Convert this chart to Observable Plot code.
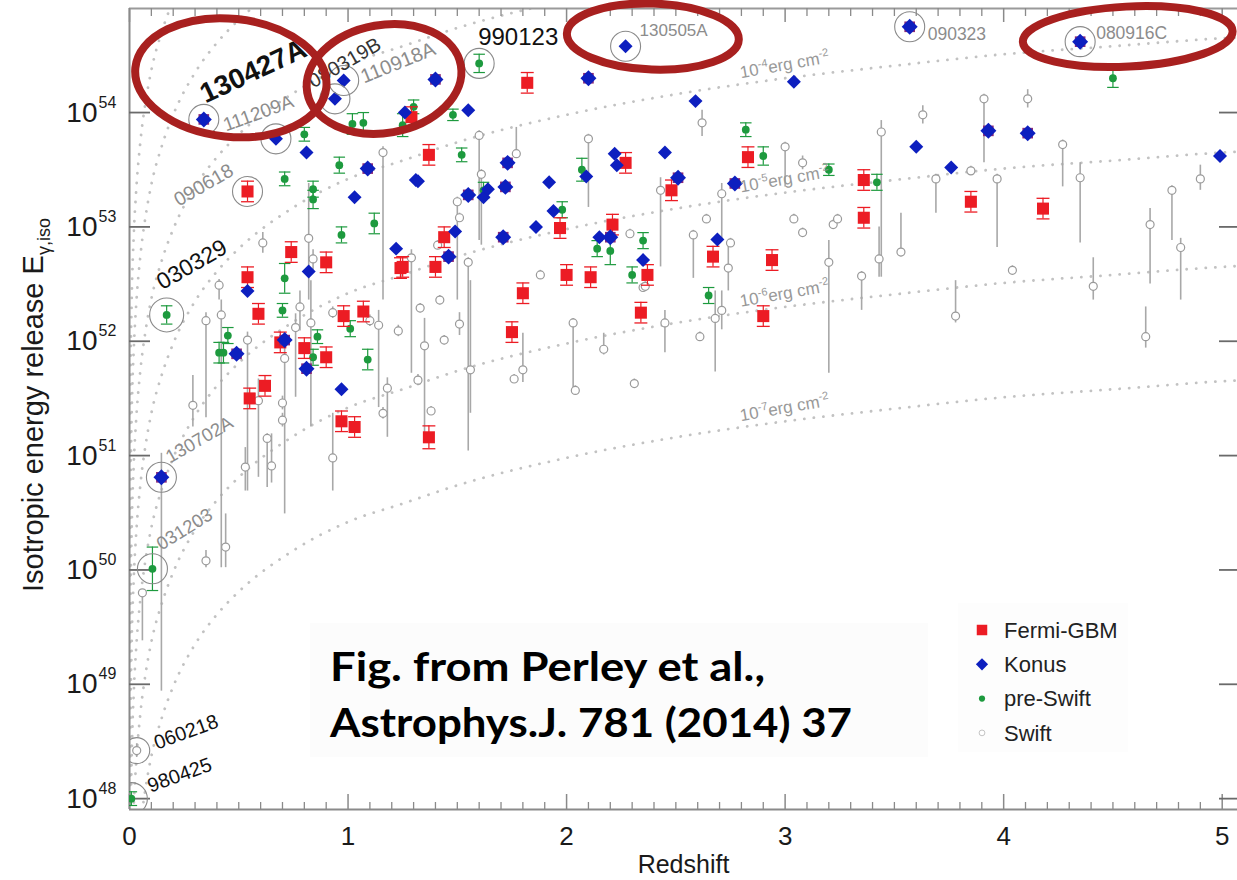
<!DOCTYPE html>
<html>
<head>
<meta charset="utf-8">
<script src="https://cdn.jsdelivr.net/npm/d3@7"></script>
<script src="https://cdn.jsdelivr.net/npm/@observablehq/plot@0.6"></script>
<style>
  html, body { margin: 0; padding: 0; background: #fff; }
  #chart svg { display: block; }
</style>
</head>
<body>
<div id="chart"></div>
<script>
// ---- axes ----
const xDomain = [0, 5.07];
const yDomain = [47.905, 54.91];          // log10 E_iso [erg]
const xMajorTicks = [0, 1, 2, 3, 4, 5];
const yTicks = [48, 49, 50, 51, 52, 53, 54];

// ---- constant-fluence curves: log10 E_iso for a fluence of 1e-7 erg cm^-2 ----
const fluenceZ =       [0.002, 0.005, 0.01, 0.02, 0.03, 0.05, 0.075, 0.1, 0.15, 0.2, 0.3, 0.4, 0.5, 0.75, 1, 1.25, 1.5, 2, 2.5, 3, 3.5, 4, 4.5, 5, 5.1];
const fluenceLogE1e7 = [44.95, 45.74, 46.35, 46.95, 47.30, 47.75, 48.11, 48.37, 48.72, 48.98, 49.35, 49.61, 49.81, 50.17, 50.42, 50.58, 50.74, 50.98, 51.16, 51.30, 51.41, 51.51, 51.58, 51.65, 51.66];
const fluenceExponents = [-7, -6, -5, -4, -3, -2, -1];
const labelledFluences = [-7, -6, -5, -4];

// ---- bursts ----
// Fermi-GBM: [z, log10 E, ±err (dex), name]
const fermi = [
  [0.54, 53.31, 0.09, "090618"], [1.29, 53.96, 0.09], [0.74, 52.78, 0.09], [0.90, 52.69, 0.09],
  [0.54, 52.56, 0.09], [1.24, 52.64, 0.09], [0.59, 52.24, 0.09], [0.55, 51.50, 0.09],
  [0.62, 51.61, 0.09], [0.69, 51.99, 0.09], [0.80, 51.94, 0.09], [0.90, 51.86, 0.09],
  [0.98, 52.22, 0.09], [1.07, 52.26, 0.09], [0.97, 51.30, 0.09], [1.03, 51.25, 0.09],
  [1.82, 54.26, 0.09], [1.37, 53.63, 0.09], [2.27, 53.56, 0.09], [2.83, 53.61, 0.09],
  [2.48, 53.32, 0.09], [1.97, 52.99, 0.09], [2.21, 53.02, 0.09], [1.44, 52.91, 0.09],
  [1.40, 52.65, 0.09], [1.25, 52.65, 0.09], [2.00, 52.58, 0.09], [2.11, 52.56, 0.09],
  [2.37, 52.58, 0.09], [2.67, 52.74, 0.09], [2.94, 52.71, 0.09], [1.80, 52.42, 0.09],
  [1.75, 52.08, 0.09], [2.34, 52.25, 0.09], [2.90, 52.22, 0.09], [1.37, 51.16, 0.10],
  [3.36, 53.41, 0.09], [3.36, 53.08, 0.09], [3.85, 53.22, 0.09], [4.18, 53.16, 0.09]
];
// Konus: [z, log10 E, name]
const konus = [
  [0.67, 53.77, "111209A"], [0.94, 54.12, "080319B"], [0.98, 54.28, "110918A"], [0.81, 53.65],
  [1.26, 54.00], [1.31, 53.41], [1.03, 53.26], [1.22, 52.81], [0.82, 52.61], [0.54, 52.44],
  [0.97, 51.58], [2.27, 54.58, "130505A"], [3.04, 54.27], [2.59, 54.10], [1.55, 54.02],
  [2.22, 53.64], [2.23, 53.54], [2.45, 53.65], [1.32, 53.40], [1.92, 53.39], [2.09, 53.44],
  [1.62, 53.26], [1.64, 53.33], [1.94, 53.14], [1.49, 52.96], [1.86, 53.00], [2.15, 52.91],
  [2.69, 52.89], [2.35, 52.71], [3.60, 53.70], [3.76, 53.52], [4.99, 53.62]
];
// Measured by both Fermi-GBM and Konus: [z, log10 E, name]
const fermiKonus = [
  [0.34, 53.94, "130427A"], [1.09, 53.51], [0.49, 51.89], [0.71, 52.01], [0.81, 51.76],
  [0.146, 50.81, "130702A"], [1.40, 54.29], [2.10, 54.30], [1.73, 53.56], [1.72, 53.35],
  [2.51, 53.43], [2.77, 53.38], [1.55, 53.28], [1.71, 52.91], [2.20, 52.91], [1.46, 52.74],
  [3.57, 54.75, "090323"], [4.35, 54.62, "080916C"], [3.93, 53.84], [4.11, 53.82]
];
// pre-Swift: [z, log10 E, ±err (dex), name]
const preSwift = [
  [0.80, 53.81, 0.06], [1.02, 53.90, 0.09], [1.07, 53.91, 0.09], [1.30, 54.05, 0.06],
  [1.25, 53.89, 0.10], [0.96, 53.54, 0.07], [0.71, 53.42, 0.06], [0.84, 53.33, 0.07],
  [0.84, 53.24, 0.08], [1.12, 53.03, 0.09], [0.97, 52.93, 0.07], [0.71, 52.55, 0.13],
  [0.17, 52.23, 0.08, "030329"], [0.70, 52.27, 0.06], [0.41, 51.90, 0.09], [0.43, 51.90, 0.09],
  [0.45, 52.05, 0.07], [0.84, 51.86, 0.07], [0.86, 52.04, 0.06], [1.01, 52.11, 0.07],
  [1.09, 51.84, 0.09], [0.105, 50.01, 0.19, "031203"], [0.0085, 48.00, 0.06, "980425"],
  [1.60, 54.43, 0.08, "990123"], [1.48, 53.98, 0.05], [2.82, 53.85, 0.06], [1.52, 53.63, 0.06],
  [2.90, 53.62, 0.08], [2.07, 53.50, 0.10], [1.62, 53.32, 0.07], [1.98, 53.15, 0.07],
  [2.14, 52.81, 0.07], [2.20, 52.79, 0.12], [2.35, 52.88, 0.07], [2.30, 52.58, 0.07],
  [2.65, 52.40, 0.07], [4.50, 54.30, 0.08], [3.42, 53.39, 0.07], [3.20, 53.50, 0.05]
];
// Swift: [z, log10 E, lower, upper, name]
const swift = [
  [0.82, 52.90, 52.36, 53.38], [0.61, 52.86, 52.77, 52.95], [0.41, 52.49, 52.36, 52.54],
  [0.42, 52.23, 50.02, 52.36], [1.16, 53.65, 52.36, 53.70], [0.84, 52.72, 52.62, 52.80],
  [1.29, 52.73, 51.72, 52.80], [0.83, 52.16, 51.25, 52.53], [0.76, 52.12, 51.51, 52.24],
  [0.35, 52.18, 51.33, 52.25], [0.29, 51.44, 51.25, 51.70], [0.54, 52.01, 50.69, 52.08],
  [0.59, 51.48, 50.81, 51.67], [0.53, 50.90, 50.69, 51.07], [0.63, 51.15, 50.72, 51.19],
  [0.65, 50.91, 50.76, 51.19], [0.71, 51.85, 50.49, 51.98], [0.70, 51.46, 51.40, 51.52],
  [0.70, 51.31, 51.25, 51.37], [0.93, 50.98, 50.69, 51.37], [0.93, 52.25, 52.20, 52.30],
  [1.10, 52.18, 52.13, 52.23], [1.14, 52.14, 51.42, 52.27], [1.18, 51.59, 51.16, 51.68],
  [1.16, 51.37, 51.32, 51.42], [1.23, 52.09, 52.04, 52.14], [1.32, 51.66, 51.61, 51.71],
  [0.059, 49.80, 49.38, 49.82], [0.033, 48.42, 48.36, 48.48, "060218"],
  [0.35, 50.08, 50.02, 50.17], [0.44, 50.20, 50.02, 50.49], [1.60, 53.80, 52.88, 53.84],
  [1.77, 53.64, 53.60, 53.87], [2.10, 53.77, 53.17, 53.81], [2.62, 53.91, 53.79, 54.02],
  [3.00, 53.70, 53.35, 53.74], [3.08, 53.56, 53.50, 53.62], [1.50, 53.22, 52.36, 53.26],
  [1.61, 53.46, 52.84, 53.50], [2.43, 53.32, 52.65, 53.43], [2.71, 53.29, 52.88, 53.38],
  [2.29, 52.94, 52.90, 52.98], [1.88, 52.58, 52.54, 52.62], [1.55, 52.69, 51.04, 52.73],
  [1.41, 52.84, 52.80, 52.88], [2.58, 52.93, 52.55, 52.97], [2.64, 53.07, 53.03, 53.11],
  [2.74, 52.64, 52.44, 52.84], [2.75, 52.86, 52.82, 52.90], [3.04, 53.07, 53.03, 53.11],
  [3.08, 52.95, 52.91, 52.99], [2.35, 52.47, 52.43, 52.51], [3.91, 54.12, 53.56, 54.16],
  [4.11, 54.12, 54.04, 54.20], [3.63, 53.98, 53.90, 54.06], [3.44, 53.83, 52.56, 53.93],
  [4.27, 53.72, 53.35, 53.76], [3.85, 53.49, 53.45, 53.53], [3.69, 53.42, 53.12, 53.46],
  [3.97, 53.42, 52.82, 53.46], [4.35, 53.43, 52.86, 53.56], [4.90, 53.42, 53.32, 53.54],
  [3.22, 53.02, 52.98, 53.06], [3.24, 53.07, 53.03, 53.11], [3.20, 52.69, 51.72, 52.88],
  [3.43, 52.72, 52.56, 53.00], [3.53, 52.78, 52.74, 53.12], [3.35, 52.57, 52.27, 52.61],
  [4.04, 52.62, 52.58, 52.66], [4.67, 53.02, 52.50, 53.16], [4.77, 53.32, 52.88, 53.36],
  [4.81, 52.82, 52.36, 52.90], [4.41, 52.48, 52.36, 52.73], [3.78, 52.22, 52.16, 52.53],
  [4.65, 52.04, 51.94, 52.30], [1.33, 52.29, 52.25, 52.33], [1.42, 52.36, 52.32, 52.40],
  [1.44, 52.01, 51.97, 52.05], [1.35, 51.96, 51.19, 52.20], [1.51, 52.15, 52.05, 52.25],
  [1.56, 51.75, 51.37, 52.53], [1.38, 51.39, 51.35, 51.43], [1.76, 51.67, 51.63, 51.71],
  [1.80, 51.75, 51.64, 52.07], [2.03, 52.16, 51.57, 52.20], [2.04, 51.57, 51.53, 51.61],
  [2.17, 51.93, 51.88, 52.07], [2.31, 51.63, 51.59, 51.67], [2.45, 52.16, 51.90, 52.27],
  [2.61, 52.04, 52.00, 52.08], [2.68, 52.20, 51.73, 52.44], [2.71, 52.27, 52.10, 52.44],
  [2.36, 52.48, 52.44, 52.52], [0.78, 52.30, 52.09, 52.44], [0.146, 50.81, 48.94, 51.02],
  [1.51, 53.08, 53.04, 53.12]
];

// ---- styling ----
const RED = "#ec1c24", BLUE = "#0d1fbf", GREEN = "#1d9a3e", GREY = "#9a9a9a";
const SANS = "'Liberation Sans', Arial, sans-serif";
const capMark = {draw(ctx, size) { const w = Math.sqrt(size) / 2; ctx.moveTo(-w, 0); ctx.lineTo(w, 0); }};

const named = [
  ...fermi.filter(d => d[3]).map(d => ({name: d[3], z: d[0], logE: d[1]})),
  ...konus.filter(d => d[2]).map(d => ({name: d[2], z: d[0], logE: d[1]})),
  ...fermiKonus.filter(d => d[2]).map(d => ({name: d[2], z: d[0], logE: d[1]})),
  ...preSwift.filter(d => d[3]).map(d => ({name: d[3], z: d[0], logE: d[1]})),
  ...swift.filter(d => d[4]).map(d => ({name: d[4], z: d[0], logE: d[1]}))
];
const ringRadius = {"030329": 17, "980425": 16, "060218": 13};
const labelStyle = {
  "130427A": {dx: -2, dy: -24, rotate: -25, size: 28, weight: "bold", color: "#111"},
  "111209A": {dx: -52, dy: -13, rotate: -20, size: 19, color: "#8c8c8c"},
  "080319B": {dx: -25, dy: -16, rotate: -30, size: 20, color: "#333"},
  "110918A": {dx: 18, dy: -3, rotate: -22, size: 20, color: "#8c8c8c"},
  "990123":  {dx: -1, dy: -26, rotate: 0, size: 24, color: "#111"},
  "130505A": {dx: 14, dy: -16, rotate: 0, size: 17, color: "#8c8c8c"},
  "090323":  {dx: 18, dy: 8, rotate: 0, size: 17.5, color: "#8c8c8c"},
  "080916C": {dx: 16, dy: -8, rotate: 0, size: 17.5, color: "#8c8c8c"},
  "090618":  {dx: -72, dy: 10, rotate: -30, size: 19.5, color: "#8c8c8c"},
  "030329":  {dx: -8, dy: -31, rotate: -30, size: 23, color: "#111"},
  "130702A": {dx: 6, dy: -19, rotate: -30, size: 18.5, color: "#8c8c8c"},
  "031203":  {dx: 6, dy: -23, rotate: -32, size: 18.5, color: "#8c8c8c"},
  "060218":  {dx: 18, dy: -7, rotate: -20, size: 20, color: "#111"},
  "980425":  {dx: 17, dy: -12, rotate: -20, size: 20, color: "#111"}
};

const curves = fluenceExponents.flatMap(k =>
  fluenceZ.map((z, i) => ({k, z, logE: fluenceLogE1e7[i] + (k + 7)})));

const xMinorTicks = d3.range(1, 51).map(i => i / 10).filter(v => Math.abs(v - Math.round(v)) > 1e-9);
const frameH = 880 - 8 - 71, frameW = 1237 - 129;

const chart = Plot.plot({
  width: 1237, height: 880,
  marginLeft: 129, marginRight: 0, marginTop: 8, marginBottom: 71,
  x: {domain: xDomain, axis: null},
  y: {domain: yDomain, axis: null},
  r: {type: "identity"},
  style: {fontFamily: SANS, background: "#fff"},
  marks: [
    // constant-fluence curves
    Plot.line(curves, {x: "z", y: "logE", z: "k", curve: "monotone-x", clip: true,
      stroke: "#c2c2c2", strokeWidth: 2.8, strokeDasharray: "0.1 9.5", strokeLinecap: "round"}),

    // frame and ticks
    Plot.ruleX([xDomain[0]], {stroke: "#8a8a8a", strokeWidth: 2}),
    Plot.ruleY([yDomain[0]], {stroke: "#8a8a8a", strokeWidth: 2}),
    Plot.ruleY([yDomain[1]], {stroke: "#9a9a9a", strokeWidth: 2}),
    Plot.ruleX(xMajorTicks, {x: d => d, insetTop: frameH - 15, stroke: "#8a8a8a", strokeWidth: 1.5}),
    Plot.ruleX(xMinorTicks, {x: d => d, insetTop: frameH - 7, stroke: "#8a8a8a", strokeWidth: 1.3}),
    Plot.ruleX(xMajorTicks, {x: d => d, insetBottom: frameH - 14, stroke: "#8a8a8a", strokeWidth: 1.5}),
    Plot.ruleX(xMinorTicks, {x: d => d, insetBottom: frameH - 8, stroke: "#8a8a8a", strokeWidth: 1.3}),
    Plot.ruleY(yTicks, {y: d => d, insetRight: frameW - 21, stroke: "#6a6a6a", strokeWidth: 1.8}),
    Plot.ruleY(yTicks, {y: d => d, insetLeft: frameW - 18, stroke: "#6a6a6a", strokeWidth: 1.8}),

    // tick labels
    Plot.text(xMajorTicks, {x: d => d, frameAnchor: "bottom", dy: 27, text: d => String(d),
      fontSize: 26, lineAnchor: "middle", fill: "#1a1a1a"}),
    Plot.text(yTicks, {y: d => d, frameAnchor: "left", dx: -32, text: () => "10",
      textAnchor: "end", lineAnchor: "middle", fontSize: 28, fill: "#1a1a1a"}),
    Plot.text(yTicks, {y: d => d, frameAnchor: "left", dx: -31, dy: -10, text: d => String(d),
      textAnchor: "start", lineAnchor: "middle", fontSize: 16, fill: "#1a1a1a"}),
    Plot.text(["Redshift"], {frameAnchor: "bottom", dy: 55, fontSize: 25, lineAnchor: "middle", fill: "#1a1a1a"}),

    // Swift
    Plot.ruleX(swift, {x: d => d[0], y1: d => d[2], y2: d => d[3], stroke: "#a8a8a8", strokeWidth: 1.6, clip: true}),
    Plot.dot(swift, {x: d => d[0], y: d => d[1], r: 4, fill: "#fff", stroke: GREY, strokeWidth: 1.2, clip: true}),

    // pre-Swift
    Plot.ruleX(preSwift, {x: d => d[0], y1: d => d[1] - d[2], y2: d => d[1] + d[2], stroke: GREEN, strokeWidth: 1.2, clip: true}),
    Plot.dot(preSwift, {x: d => d[0], y: d => d[1] - d[2], symbol: capMark, r: 6.5, stroke: GREEN, strokeWidth: 1.2, clip: true}),
    Plot.dot(preSwift, {x: d => d[0], y: d => d[1] + d[2], symbol: capMark, r: 6.5, stroke: GREEN, strokeWidth: 1.2, clip: true}),
    Plot.dot(preSwift, {x: d => d[0], y: d => d[1], r: 3.9, fill: GREEN, clip: true}),

    // Fermi-GBM
    Plot.ruleX(fermi, {x: d => d[0], y1: d => d[1] - d[2], y2: d => d[1] + d[2], stroke: RED, strokeWidth: 1.2}),
    Plot.dot(fermi, {x: d => d[0], y: d => d[1] - d[2], symbol: capMark, r: 7.3, stroke: RED, strokeWidth: 1.3}),
    Plot.dot(fermi, {x: d => d[0], y: d => d[1] + d[2], symbol: capMark, r: 7.3, stroke: RED, strokeWidth: 1.3}),
    Plot.dot(fermi, {x: d => d[0], y: d => d[1], symbol: "square", r: 6.8, fill: RED}),
    Plot.dot(fermiKonus, {x: d => d[0], y: d => d[1], symbol: "square", r: 6.0, fill: "#8a2a78"}),

    // Konus
    Plot.dot(konus, {x: d => d[0], y: d => d[1], symbol: "diamond2", r: 6.3, fill: BLUE}),
    Plot.dot(fermiKonus, {x: d => d[0], y: d => d[1], symbol: "diamond2", r: 7.2, fill: BLUE}),

    // highlighted bursts
    Plot.dot(named, {x: "z", y: "logE", r: d => ringRadius[d.name] ?? 15, stroke: "#8a8a8a", strokeWidth: 1.1, clip: true}),
    ...named.map(d => {
      const s = labelStyle[d.name];
      return Plot.text([d], {x: "z", y: "logE", text: "name", dx: s.dx, dy: s.dy, rotate: s.rotate,
        fontSize: s.size, fontWeight: s.weight ?? "normal", fill: s.color,
        textAnchor: "start", lineAnchor: "middle"});
    })
  ]
});

document.getElementById("chart").append(chart);

const svg = d3.select(chart);
const sx = chart.scale("x"), sy = chart.scale("y");
const overlay = svg.append("g").attr("text-anchor", "start").attr("font-family", SANS);

// fluence labels along the dotted curves
const baseAt = d3.scaleLinear().domain(fluenceZ).range(fluenceLogE1e7);
const labelZ = 2.8;
for (const k of labelledFluences) {
  const t = overlay.append("text")
    .attr("transform", `translate(${sx.apply(labelZ)},${sy.apply(baseAt(labelZ) + k + 7) - 6}) rotate(-10)`)
    .attr("font-size", 17).attr("fill", "#999");
  t.append("tspan").text("10");
  t.append("tspan").attr("font-size", 11).attr("dy", -7).text(String(k));
  t.append("tspan").attr("dy", 7).text("erg cm");
  t.append("tspan").attr("font-size", 11).attr("dy", -7).text("-2");
}

// y-axis title
const yl = overlay.append("text")
  .attr("transform", "translate(43,592) rotate(-90)")
  .attr("font-size", 29).attr("fill", "#1a1a1a");
yl.append("tspan").text("Isotropic energy release E");
yl.append("tspan").attr("font-size", 18).attr("dy", 7).text("γ,iso");

// legend
const lg = overlay.append("g");
lg.append("rect").attr("x", 958).attr("y", 603).attr("width", 170).attr("height", 149).attr("fill", "#fdfdfd");
const legendRows = [
  {label: "Fermi-GBM", symbol: d3.symbolSquare, size: 110, fill: RED, stroke: "none"},
  {label: "Konus", symbol: d3.symbolDiamond2, size: 95, fill: BLUE, stroke: "none"},
  {label: "pre-Swift", symbol: d3.symbolCircle, size: 30, fill: GREEN, stroke: "none"},
  {label: "Swift", symbol: d3.symbolCircle, size: 26, fill: "#fff", stroke: "#c4c4c4"}
];
legendRows.forEach((row, i) => {
  const y = 630 + i * 34.3;
  lg.append("path").attr("d", d3.symbol(row.symbol, row.size)())
    .attr("transform", `translate(982,${y})`).attr("fill", row.fill).attr("stroke", row.stroke);
  lg.append("text").attr("x", 1004).attr("y", y).attr("dy", "0.35em")
    .attr("font-size", 22).attr("fill", "#222").text(row.label);
});

// citation
const cap = overlay.append("g")
  .attr("font-family", "Lato, 'Open Sans', sans-serif").attr("font-weight", 700).attr("fill", "#000");
cap.append("rect").attr("x", 310).attr("y", 623).attr("width", 618).attr("height", 134).attr("fill", "#fcfcfc");
cap.append("text").attr("x", 330).attr("y", 681).attr("font-size", 40)
  .attr("textLength", 435).attr("lengthAdjust", "spacingAndGlyphs").text("Fig. from Perley et al.,");
cap.append("text").attr("x", 330).attr("y", 737).attr("font-size", 40)
  .attr("textLength", 522).attr("lengthAdjust", "spacingAndGlyphs").text("Astrophys.J. 781 (2014) 37");

// red ellipses around the most energetic bursts
const ellipses = [
  {z: 0.466, logE: 54.30, rx: 96, ry: 59, rot: 6},
  {z: 1.167, logE: 54.29, rx: 78, ry: 54, rot: -10},
  {z: 2.397, logE: 54.66, rx: 86, ry: 33, rot: 2},
  {z: 4.570, logE: 54.66, rx: 105, ry: 30, rot: -3}
];
for (const e of ellipses) {
  overlay.append("ellipse")
    .attr("transform", `translate(${sx.apply(e.z)},${sy.apply(e.logE)}) rotate(${e.rot})`)
    .attr("rx", e.rx).attr("ry", e.ry)
    .attr("fill", "none").attr("stroke", "#a8201f").attr("stroke-width", 8);
}
</script>
</body>
</html>
